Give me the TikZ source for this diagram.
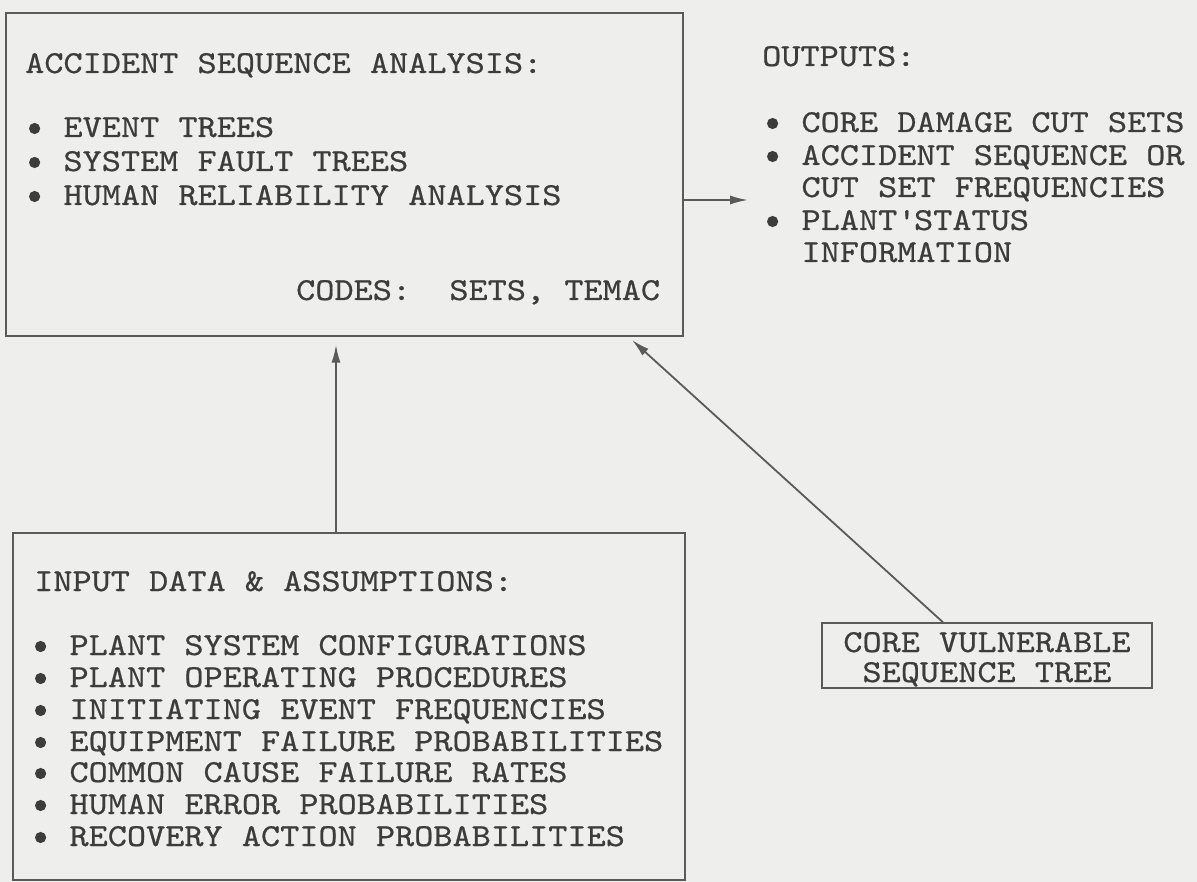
\documentclass[tikz,border=0pt]{standalone}
\usepackage{fontspec}
\newfontfamily\tw{lmmono10-regular}[Extension=.otf, FakeStretch=1.14, FakeBold=0.6]
\usetikzlibrary{arrows.meta}
\definecolor{paper}{HTML}{EEEEEC}
\definecolor{ink}{HTML}{3C3C3C}
\definecolor{rule}{HTML}{5A5A5A}
\tikzset{
  box/.style={draw=rule, line width=1.4pt, inner sep=0pt, rectangle},
  txt/.style={anchor=base west, inner sep=0pt, text=ink, font=\tw\fontsize{32}{32}\selectfont},
  ctxt/.style={anchor=base, inner sep=0pt, text=ink, font=\tw\fontsize{32}{32}\selectfont},
  dot/.style={fill=ink, draw=none},
  arr/.style={draw=rule, line width=1.8pt, -{Latex[length=18pt,width=9pt]}}
}
% bullet line: name, x of bullet cell, baseline y, text
\newcommand\bline[4]{%
  \node[txt] (#1) at (#2+38.3,#3) {#4};
  \path[dot] ([xshift=-28.7pt,yshift=8.5pt]#1.base west) circle [radius=5.6pt];}
\begin{document}
\begin{tikzpicture}[x=1pt,y=-1pt]
\fill[paper] (0,0) rectangle (1197,882);
\useasboundingbox (0,0) rectangle (1197,882);
% boxes
\node[box, minimum width=677, minimum height=323] (asa) at (344.5,174.5) {};
\node[box, minimum width=672, minimum height=347] (inp) at (349,706.5) {};
\node[box, minimum width=330, minimum height=65] (cvst) at (987,655.5) {};
% top box text
\node[txt] (asa1) at (25,73) {ACCIDENT SEQUENCE ANALYSIS:};
\bline{asa2}{25}{137}{EVENT TREES}
\bline{asa3}{25}{171}{SYSTEM FAULT TREES}
\bline{asa4}{25}{205}{HUMAN RELIABILITY ANALYSIS}
\node[txt] (asa5) at (296,300) {CODES:\ \ SETS, TEMAC};
% outputs
\node[txt] (out1) at (762,66) {OUTPUTS:};
\bline{out2}{763}{132}{CORE DAMAGE CUT SETS}
\bline{out3}{763}{165}{ACCIDENT SEQUENCE OR}
\node[txt] (out4) at (801.3,197) {CUT SET FREQUENCIES};
\bline{out5}{763}{230}{PLANT\textquotesingle STATUS}
\node[txt] (out6) at (801.3,262) {INFORMATION};
% input box text
\node[txt] (in1) at (34,591) {INPUT DATA \& ASSUMPTIONS:};
\bline{in2}{31}{655}{PLANT SYSTEM CONFIGURATIONS}
\bline{in3}{31}{687}{PLANT OPERATING PROCEDURES}
\bline{in4}{31}{719}{INITIATING EVENT FREQUENCIES}
\bline{in5}{31}{751}{EQUIPMENT FAILURE PROBABILITIES}
\bline{in6}{31}{782}{COMMON CAUSE FAILURE RATES}
\bline{in7}{31}{814}{HUMAN ERROR PROBABILITIES}
\bline{in8}{31}{846}{RECOVERY ACTION PROBABILITIES}
% small box text
\node[ctxt] (cv1) at (987,652) {CORE VULNERABLE};
\node[ctxt] (cv2) at (987,682) {SEQUENCE TREE};
% connectors
\coordinate (vx) at (336,0);
\coordinate (hy) at (748,200);
\coordinate (dtail) at (943,0);
\coordinate (dtip) at (632,340);
\draw[arr] (inp.north -| vx) -- ([yshift=-8pt]asa.south -| vx);
\draw[arr] (asa.east |- hy) -- (hy);
\draw[arr] (cvst.north -| dtail) -- (dtip);
\end{tikzpicture}
\end{document}
